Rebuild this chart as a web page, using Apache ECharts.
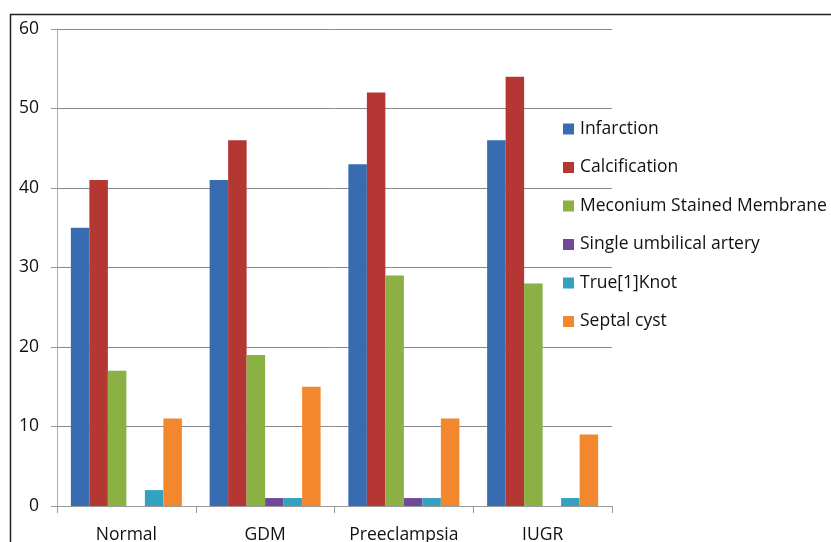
<!DOCTYPE html>
<html><head><meta charset="utf-8">
<script src="https://cdn.jsdelivr.net/npm/echarts@6/dist/echarts.min.js"></script>
<style>html,body{margin:0;padding:0;background:#fff}#c{width:831px;height:542px}</style>
</head><body><div id="c"></div>
<script>
const categories = ['Normal', 'GDM', 'Preeclampsia', 'IUGR'];
const seriesNames = ['Infarction', 'Calcification', 'Meconium Stained Membrane', 'Single umbilical artery', 'True[1]Knot', 'Septal cyst'];
const infarction = [35, 41, 43, 46];
const calcification = [41, 46, 52, 54];
const meconium = [17, 19, 29, 28];
const singleArtery = [0, 1, 1, 0];
const trueKnot = [2, 1, 1, 1];
const septalCyst = [11, 15, 11, 9];
const yTicks = [0, 10, 20, 30, 40, 50, 60];
const colors = ['#376CB1', '#B43734', '#8BB043', '#6F4A98', '#33A1C0', '#F2872E'];
const values = [infarction, calcification, meconium, singleArtery, trueKnot, septalCyst];
const FONT = 'Open Sans';

const chart = echarts.init(document.getElementById('c'));
chart.setOption({
  animation: false,
  color: colors,
  graphic: [{
    type: 'rect', left: 8, top: 12, shape: {width: 900, height: 600},
    style: {fill: 'none', stroke: '#222', lineWidth: 1.5}, silent: true, z: -1
  }],
  legend: {
    orient: 'vertical', left: 563, top: 117, padding: 0, itemGap: 14.5,
    itemWidth: 11, itemHeight: 11, icon: 'rect',
    textStyle: {fontFamily: FONT, fontSize: 17.5, lineHeight: 24, color: '#111', padding: [0, 0, 0, 1]},
    data: seriesNames
  },
  grid: {left: 57, right: 219, top: 29, bottom: 36, containLabel: false, outerBoundsMode: 'none'},
  xAxis: {
    type: 'category', data: categories,
    axisLine: {lineStyle: {color: '#999', width: 1}},
    axisTick: {show: true, interval: 0, alignWithLabel: false, length: 7, lineStyle: {color: '#999'}},
    axisLabel: {interval: 0, fontFamily: FONT, fontSize: 17.5, color: '#111', margin: 20}
  },
  yAxis: {
    type: 'value', min: yTicks[0], max: yTicks[yTicks.length - 1], interval: 10,
    axisLine: {show: true, lineStyle: {color: '#aaa', width: 1}},
    axisTick: {show: true, length: 6, lineStyle: {color: '#999'}},
    splitLine: {lineStyle: {color: '#8a8a8a', width: 1}},
    axisLabel: {fontFamily: FONT, fontSize: 17.5, color: '#111', margin: 18}
  },
  series: seriesNames.map((n, i) => ({
    name: n, type: 'bar', data: values[i], barGap: '0%', barCategoryGap: '20%'
  }))
});
</script></body></html>
